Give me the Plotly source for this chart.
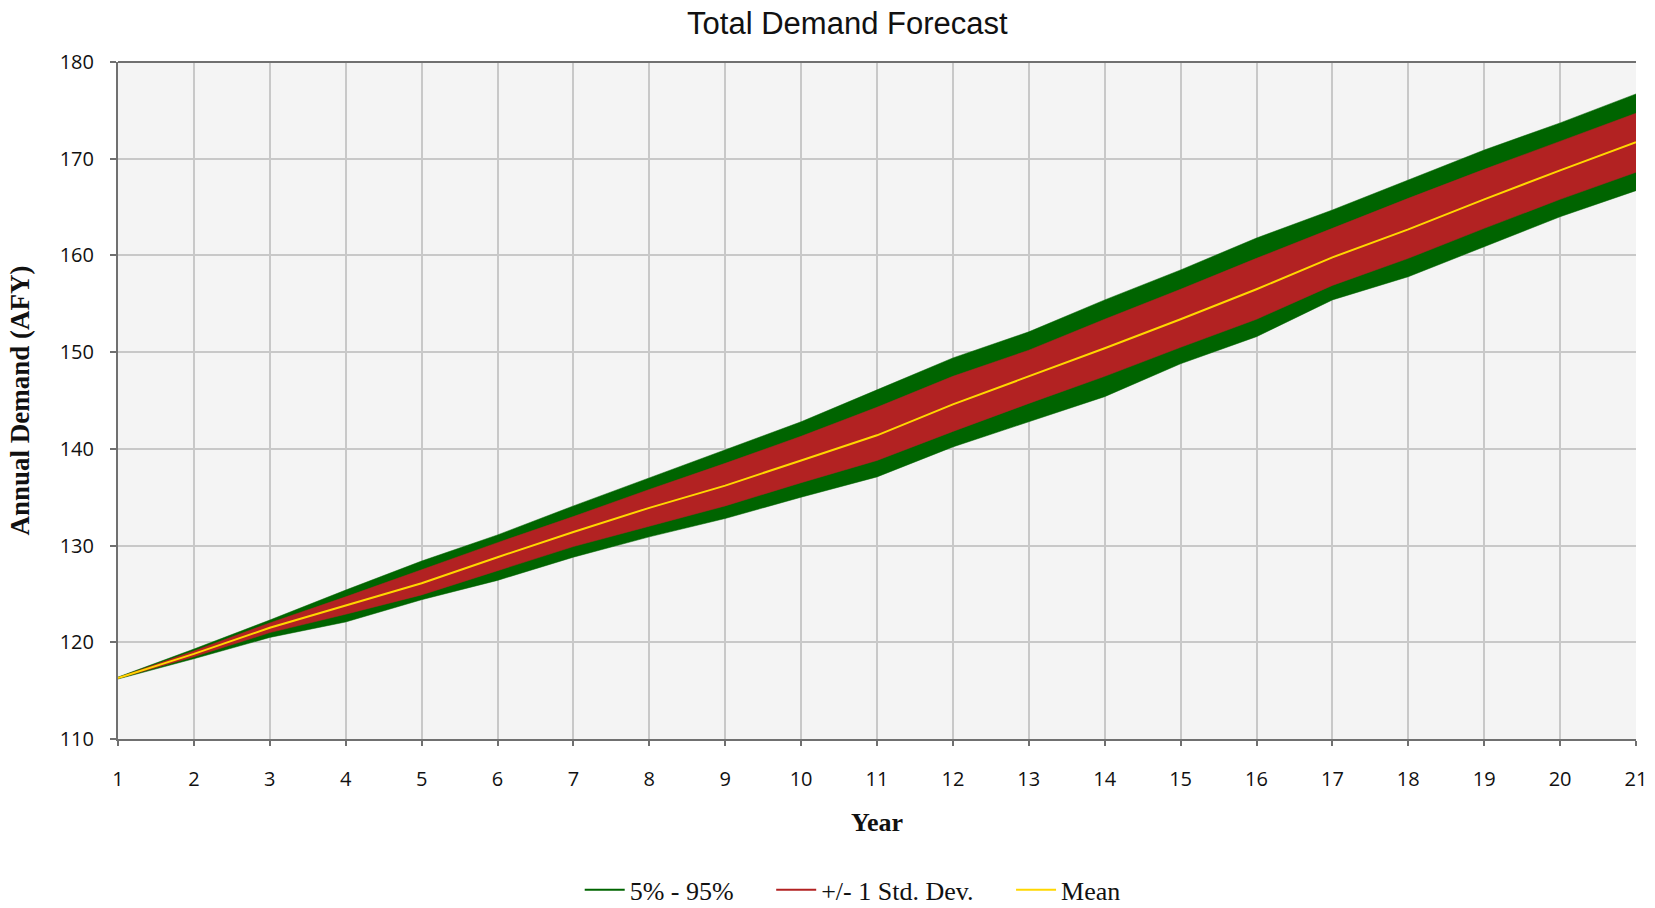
import plotly.graph_objects as go

years = list(range(1, 22))
mean = [116.3, 118.8, 121.5, 123.8, 126.1, 128.8, 131.4, 133.9, 136.2, 138.8, 141.4,
        144.6, 147.5, 150.4, 153.4, 156.5, 159.8, 162.7, 165.8, 168.8, 171.7]
p95 = [116.4, 119.3, 122.3, 125.4, 128.4, 131.1, 134.1, 137.0, 139.9, 142.8, 146.1,
       149.4, 152.1, 155.4, 158.5, 161.8, 164.7, 167.8, 170.9, 173.7, 176.7]
p5 = [116.2, 118.3, 120.5, 122.1, 124.4, 126.4, 128.8, 130.9, 132.8, 135.0, 137.1,
      140.2, 142.8, 145.4, 148.8, 151.6, 155.4, 157.8, 160.9, 164.0, 166.7]
sd_hi = [116.35, 119.1, 122.0, 124.7, 127.5, 130.3, 133.0, 135.8, 138.5, 141.3, 144.3,
         147.5, 150.2, 153.4, 156.5, 159.7, 162.8, 165.9, 168.9, 171.8, 174.7]
sd_lo = [116.25, 118.5, 121.0, 122.9, 124.9, 127.4, 129.9, 132.0, 134.1, 136.5, 138.8,
         141.8, 144.7, 147.5, 150.5, 153.4, 156.9, 159.7, 162.8, 165.8, 168.6]
legend_names = ["5% - 95%", "+/- 1 Std. Dev.", "Mean"]

GREEN = "#006400"
RED = "#B22222"
GOLD = "#FFD700"

fig = go.Figure()
fig.add_trace(go.Scatter(x=years, y=p5, mode="lines", line=dict(color=GREEN, width=0.5),
                         showlegend=False, hoverinfo="skip"))
fig.add_trace(go.Scatter(x=years, y=p95, mode="lines", line=dict(color=GREEN, width=0.5),
                         fill="tonexty", fillcolor=GREEN, showlegend=False, hoverinfo="skip"))
fig.add_trace(go.Scatter(x=years, y=sd_lo, mode="lines", line=dict(color=RED, width=0.5),
                         showlegend=False, hoverinfo="skip"))
fig.add_trace(go.Scatter(x=years, y=sd_hi, mode="lines", line=dict(color=RED, width=0.5),
                         fill="tonexty", fillcolor=RED, showlegend=False, hoverinfo="skip"))
fig.add_trace(go.Scatter(x=years, y=mean, mode="lines", line=dict(color=GOLD, width=2),
                         showlegend=False))

# legend entries (line symbols, as in the reference)
pad = "\u00a0" * 5
for i, (name, col) in enumerate(zip(legend_names, [GREEN, RED, GOLD])):
    label = name + (pad if i < len(legend_names) - 1 else "")
    fig.add_trace(go.Scatter(x=[None], y=[None], mode="lines", line=dict(color=col, width=2),
                             name=label))

axis_col = "#707070"
grid_col = "#c8c8c8"

fig.update_layout(
    width=1655, height=908,
    margin=dict(l=118, r=19, t=62, b=169, autoexpand=False),
    paper_bgcolor="white",
    plot_bgcolor="#f4f4f4",
    title=dict(text="Total Demand Forecast", x=0.512, xanchor="center",
               y=1 - 23 / 908, yanchor="middle",
               font=dict(family="Liberation Sans", size=31, color="#111111")),
    xaxis=dict(range=[1, 21], tickmode="array", tickvals=years,
               ticktext=[str(y) for y in years],
               showgrid=True, gridcolor=grid_col, gridwidth=2,
               showline=True, linecolor=axis_col, linewidth=2,
               ticks="outside", ticklen=5, tickcolor=axis_col, tickwidth=2,
               ticklabelstandoff=16, automargin=False,
               zeroline=False,
               tickfont=dict(family="Open Sans", size=20, color="#111111"),
               title=dict(text="<b>Year</b>", standoff=22,
                          font=dict(family="Liberation Serif", size=26, color="#111111"))),
    yaxis=dict(range=[110, 180], tickmode="array", tickvals=list(range(110, 181, 10)),
               showgrid=True, gridcolor=grid_col, gridwidth=2,
               showline=True, linecolor=axis_col, linewidth=2,
               ticks="outside", ticklen=6, tickcolor=axis_col, tickwidth=2,
               ticklabelstandoff=12, automargin=False,
               zeroline=False,
               tickfont=dict(family="Open Sans", size=20, color="#111111"),
               title=dict(text="<b>Annual Demand (AFY)</b>", standoff=22,
                          font=dict(family="Liberation Serif", size=27, color="#111111"))),
    legend=dict(orientation="h", x=0.484, xanchor="center", y=-0.223, yanchor="middle",
                traceorder="normal",
                font=dict(family="Liberation Serif", size=26, color="#111111"),
                bgcolor="rgba(0,0,0,0)", itemwidth=40),
    showlegend=True,
)

# darker top border like the reference
fig.add_shape(type="line", xref="paper", yref="paper", x0=0, x1=1, y0=1, y1=1,
              line=dict(color=axis_col, width=2), layer="above")

fig.write_html("out.html")
